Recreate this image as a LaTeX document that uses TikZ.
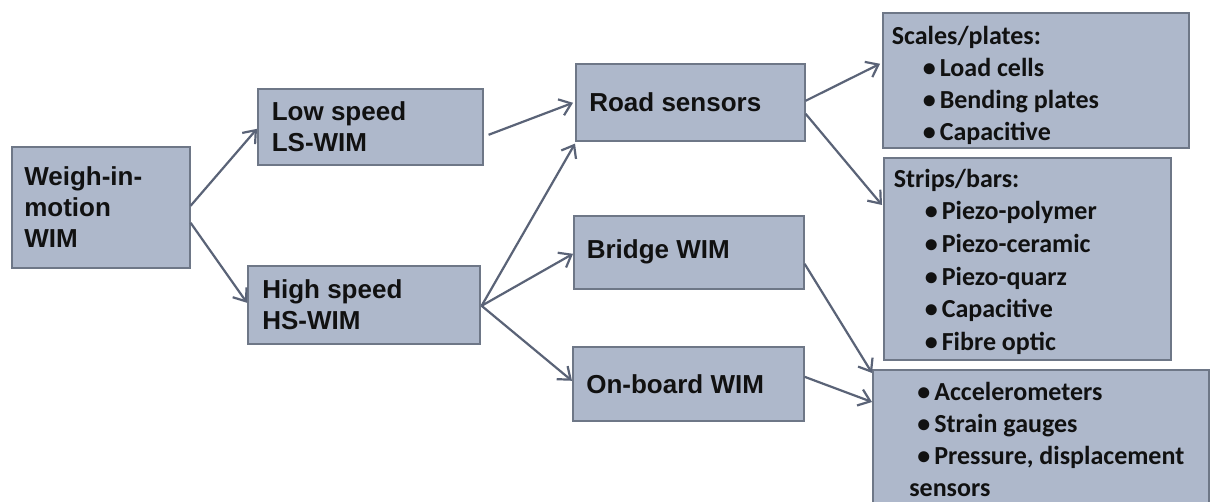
\documentclass[tikz,border=0pt]{standalone}
\usepackage{fontspec}
\setmainfont{Liberation Sans}
\newfontfamily\calfont{Carlito}
\usetikzlibrary{arrows.meta,calc}
\definecolor{boxfill}{HTML}{AEB8CB}
\definecolor{boxline}{HTML}{6E7787}
\definecolor{arr}{HTML}{5A6377}
\definecolor{txt}{HTML}{111111}
\begin{document}
\begin{tikzpicture}[x=0.5pt,y=-0.5pt,
  box/.style={draw=boxline,line width=0.8pt,fill=boxfill,rectangle,anchor=north west,
    text=txt,align=left,inner xsep=0pt,inner ysep=0pt},
  lbox/.style={box,font=\fontsize{13}{15.6}\bfseries\selectfont},
  rbox/.style={box,font=\calfont\fontsize{13}{16.35}\bfseries\selectfont},
  conn/.style={draw=arr,line width=1.1pt,-{Straight Barb[length=5.5pt,width=8.5pt,line width=1.1pt]}}]
\useasboundingbox (0,0) rectangle (1214,502);
\fill[white] (0,0) rectangle (1214,502);
\newcommand{\bx}[1]{\makebox[8.5pt][l]{\textbullet}#1}
\newcommand{\rtext}[4]{\parbox[c][#1][t]{#2}{\vspace*{#3}\strut #4}}
% left column
\node[lbox,minimum width=89pt,minimum height=60.5pt] (wim) at (11,146) {\hspace*{5.5pt}\parbox{82pt}{Weigh-in-\\motion\\WIM}};
\node[lbox,minimum width=112.5pt,minimum height=38pt] (ls) at (257,88) {\hspace*{6.5pt}\parbox{105pt}{Low speed\\LS-WIM}};
\node[lbox,minimum width=116pt,minimum height=39pt] (hs) at (247,265) {\hspace*{6.5pt}\parbox{108pt}{High speed\\HS-WIM}};
\node[lbox,minimum width=114.5pt,minimum height=38.5pt] (rs) at (575,63) {\hspace*{6pt}\parbox{107pt}{Road sensors}};
\node[lbox,minimum width=115pt,minimum height=36.5pt] (bw) at (573,215) {\hspace*{6pt}\parbox{108pt}{Bridge WIM}};
\node[lbox,minimum width=115.5pt,minimum height=37pt] (ob) at (572,346) {\hspace*{6pt}\parbox{108pt}{On-board WIM}};
% right column
\node[rbox,minimum width=153pt,minimum height=67.5pt] (sp) at (882,12) {\hspace*{4pt}\rtext{67.5pt}{148pt}{4.2pt}{%
  \fontsize{13}{15.85}\selectfont Scales/plates:\\[0.6pt]
  \hspace*{15.5pt}\bx{Load cells}\\
  \hspace*{15.5pt}\bx{Bending plates}\\
  \hspace*{15.5pt}\bx{Capacitive}}};
\node[rbox,minimum width=143.5pt,minimum height=101pt] (sb) at (883,157) {\hspace*{4.5pt}\rtext{101pt}{138pt}{3.2pt}{Strips/bars:\\
  \hspace*{15.5pt}\bx{Piezo-polymer}\\
  \hspace*{15.5pt}\bx{Piezo-ceramic}\\
  \hspace*{15.5pt}\bx{Piezo-quarz}\\
  \hspace*{15.5pt}\bx{Capacitive}\\
  \hspace*{15.5pt}\bx{Fibre optic}}};
\node[rbox,minimum width=168pt,minimum height=72pt] (ad) at (872,369) {\hspace*{21.5pt}\rtext{72pt}{145pt}{3.8pt}{\fontsize{13}{16}\selectfont\bx{Accelerometers}\\
  \bx{Strain gauges}\\
  \bx{Pressure, displacement}\\
  \hspace*{-4pt}sensors}};
% connectors
\draw[conn] ($(wim.east)+(0,-1.5)$) -- ($(ls.west)+(0,2)$);
\draw[conn] ($(wim.east)+(0,15.5)$) -- ($(hs.west)+(0,-2)$);
\draw[conn] ($(ls.east)+(5,8)$) -- ($(rs.west)+(-2,0.5)$);
\draw[conn] ($(hs.east)+(1,1)$) -- ($(rs.south west)+(0,2)$);
\draw[conn] ($(hs.east)+(1,1)$) -- ($(bw.west)+(0,1.5)$);
\draw[conn] ($(hs.east)+(1,1)$) -- ($(ob.west)+(0,-3)$);
\draw[conn] ($(rs.east)+(0,-1.5)$) -- ($(sp.west)+(-2,-16.5)$);
\draw[conn] ($(rs.east)+(0,11.5)$) -- ($(sb.north west)+(-1,48)$);
\draw[conn] ($(bw.east)+(0,11.5)$) -- ($(ad.north west)+(0,4)$);
\draw[conn] ($(ob.east)+(0,-7)$) -- ($(ad.north west)+(0,33)$);
\end{tikzpicture}
\end{document}
